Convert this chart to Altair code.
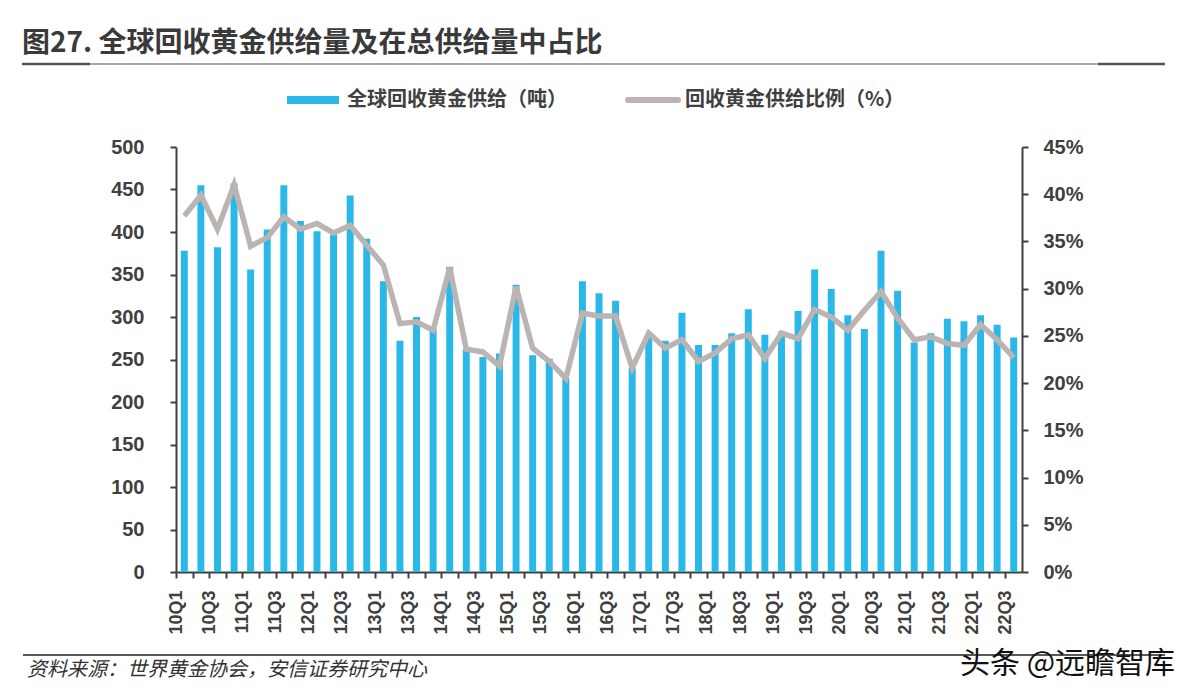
import altair as alt
import pandas as pd

TITLE = "图27. 全球回收黄金供给量及在总供给量中占比"
LABEL_BAR = "全球回收黄金供给（吨）"
LABEL_LINE = "回收黄金供给比例（%）"
SOURCE = "资料来源：世界黄金协会，安信证券研究中心"
WATERMARK = "头条 @远瞻智库"

quarters = [
    "10Q1", "10Q2", "10Q3", "10Q4", "11Q1", "11Q2", "11Q3", "11Q4",
    "12Q1", "12Q2", "12Q3", "12Q4", "13Q1", "13Q2", "13Q3", "13Q4",
    "14Q1", "14Q2", "14Q3", "14Q4", "15Q1", "15Q2", "15Q3", "15Q4",
    "16Q1", "16Q2", "16Q3", "16Q4", "17Q1", "17Q2", "17Q3", "17Q4",
    "18Q1", "18Q2", "18Q3", "18Q4", "19Q1", "19Q2", "19Q3", "19Q4",
    "20Q1", "20Q2", "20Q3", "20Q4", "21Q1", "21Q2", "21Q3", "21Q4",
    "22Q1", "22Q2", "22Q3",
]

recycled_t = [
    378, 455, 382, 457, 356, 403, 455, 413,
    401, 397, 443, 392, 342, 272, 300, 286,
    359, 262, 253, 257, 338, 255, 251, 228,
    342, 328, 319, 240, 277, 272, 305, 267,
    267, 281, 309, 279, 283, 307, 356, 333,
    302, 286, 378, 331, 270, 281, 298, 295,
    302, 291, 276,
]

share_pct = [
    37.7, 39.9, 36.3, 41.0, 34.5, 35.4, 37.6, 36.3,
    36.9, 35.9, 36.7, 34.6, 32.5, 26.3, 26.5, 25.6,
    32.2, 23.6, 23.3, 21.8, 30.2, 23.7, 22.3, 20.5,
    27.4, 27.1, 27.1, 21.6, 25.3, 23.7, 24.6, 22.3,
    23.2, 24.7, 25.1, 22.6, 25.3, 24.7, 27.8, 27.0,
    25.6, 27.7, 29.7, 26.9, 24.6, 24.9, 24.2, 24.0,
    26.2, 24.6, 22.7,
]

left_ticks = [0, 50, 100, 150, 200, 250, 300, 350, 400, 450, 500]
right_ticks = [0, 5, 10, 15, 20, 25, 30, 35, 40, 45]

BLUE = "#29B8E8"
GRAY = "#BCB4B2"
AX = "#404040"
NUM_FONT = "Liberation Sans"
CJK = "Noto Sans CJK SC"

W, H = 846, 425
STEP = W / len(quarters)

df = pd.DataFrame({"q": quarters, "v": recycled_t, "p": share_pct})

x_enc = alt.X(
    "q:N",
    sort=quarters,
    title=None,
    scale=alt.Scale(paddingInner=0.58, paddingOuter=0.29),
    axis=alt.Axis(
        labelExpr="(indexof(datum.value,'Q1')>=0 || indexof(datum.value,'Q3')>=0) ? datum.value : ''",
        labelAngle=270,
        labelFont=NUM_FONT,
        labelFontSize=18,
        labelFontWeight="bold",
        labelColor=AX,
        labelPadding=12,
        tickOffset=-STEP / 2,
        tickSize=6,
        tickWidth=2,
        tickColor=AX,
        domainColor=AX,
        domainWidth=2,
        grid=False,
    ),
)

base = alt.Chart(df).encode(x=x_enc)

bars = base.mark_bar(color=BLUE).encode(
    y=alt.Y(
        "v:Q",
        title=None,
        scale=alt.Scale(domain=[0, 500], nice=False),
        axis=alt.Axis(
            values=left_ticks,
            labelFont=NUM_FONT,
            labelFontSize=20,
            labelFontWeight="bold",
            labelColor=AX,
            labelPadding=26,
            tickSize=6,
            tickWidth=2,
            tickColor=AX,
            domainColor=AX,
            domainWidth=2,
            grid=False,
        ),
    ),
)

line = base.mark_line(strokeWidth=5.5, color=GRAY).encode(
    y=alt.Y(
        "p:Q",
        title=None,
        scale=alt.Scale(domain=[0, 45], nice=False),
        axis=alt.Axis(
            orient="right",
            values=right_ticks,
            labelExpr="datum.value + '%'",
            labelFont=NUM_FONT,
            labelFontSize=20,
            labelFontWeight="bold",
            labelColor=AX,
            labelPadding=15,
            tickSize=6,
            tickWidth=2,
            tickColor=AX,
            domainColor=AX,
            domainWidth=2,
            grid=False,
        ),
    ),
)

one = pd.DataFrame({"k": [0]})


def txt(s, x, y, size, weight="normal", style="normal", color=AX):
    return alt.Chart(pd.DataFrame({"t": [s]})).mark_text(
        align="left", baseline="middle", font=CJK, fontSize=size,
        fontWeight=weight, fontStyle=style, color=color
    ).encode(text="t:N", x=alt.value(x), y=alt.value(y))


def hrule(x1, x2, y, color, width):
    return alt.Chart(one).mark_rule(color=color, strokeWidth=width).encode(
        x=alt.value(x1), x2=alt.value(x2), y=alt.value(y)
    )


title_txt = txt(TITLE, -154, -103, 28, weight="bold", color="#3A3A3A")
rule_mid = hrule(-154, 989, -83, "#8A8A8A", 1.5)
rule_l = hrule(-154, -86, -83, "#555555", 2.5)
rule_r = hrule(922, 989, -83, "#555555", 2.5)
rule_foot = hrule(-153, 989, 508, "#595959", 2)
source_txt = txt(SOURCE, -149, 523, 20, style="italic", color="#333333")
wm_txt = txt(WATERMARK, 784, 517, 30, color="#111111")

# legend
leg_rect = alt.Chart(one).mark_rect(color=BLUE).encode(
    x=alt.value(111), x2=alt.value(163), y=alt.value(-51), y2=alt.value(-43)
)
leg_line = alt.Chart(one).mark_rule(color=GRAY, strokeWidth=6, strokeCap="round").encode(
    x=alt.value(452), x2=alt.value(502), y=alt.value(-47)
)
leg_t1 = txt(LABEL_BAR, 171, -47, 20, weight="bold")
leg_t2 = txt(LABEL_LINE, 509, -47, 20, weight="bold")

chart = (
    alt.layer(bars, line, rule_mid, rule_l, rule_r, rule_foot, title_txt,
              source_txt, wm_txt, leg_rect, leg_line, leg_t1, leg_t2)
    .resolve_scale(y="independent")
    .properties(
        width=W,
        height=H,
        padding={"left": 168, "top": 139, "right": 172, "bottom": 116},
        autosize=alt.AutoSizeParams(type="none"),
        background="white",
    )
    .configure_view(stroke=None)
)

chart.save("out.html", embed_options={"renderer": "svg", "actions": False})
